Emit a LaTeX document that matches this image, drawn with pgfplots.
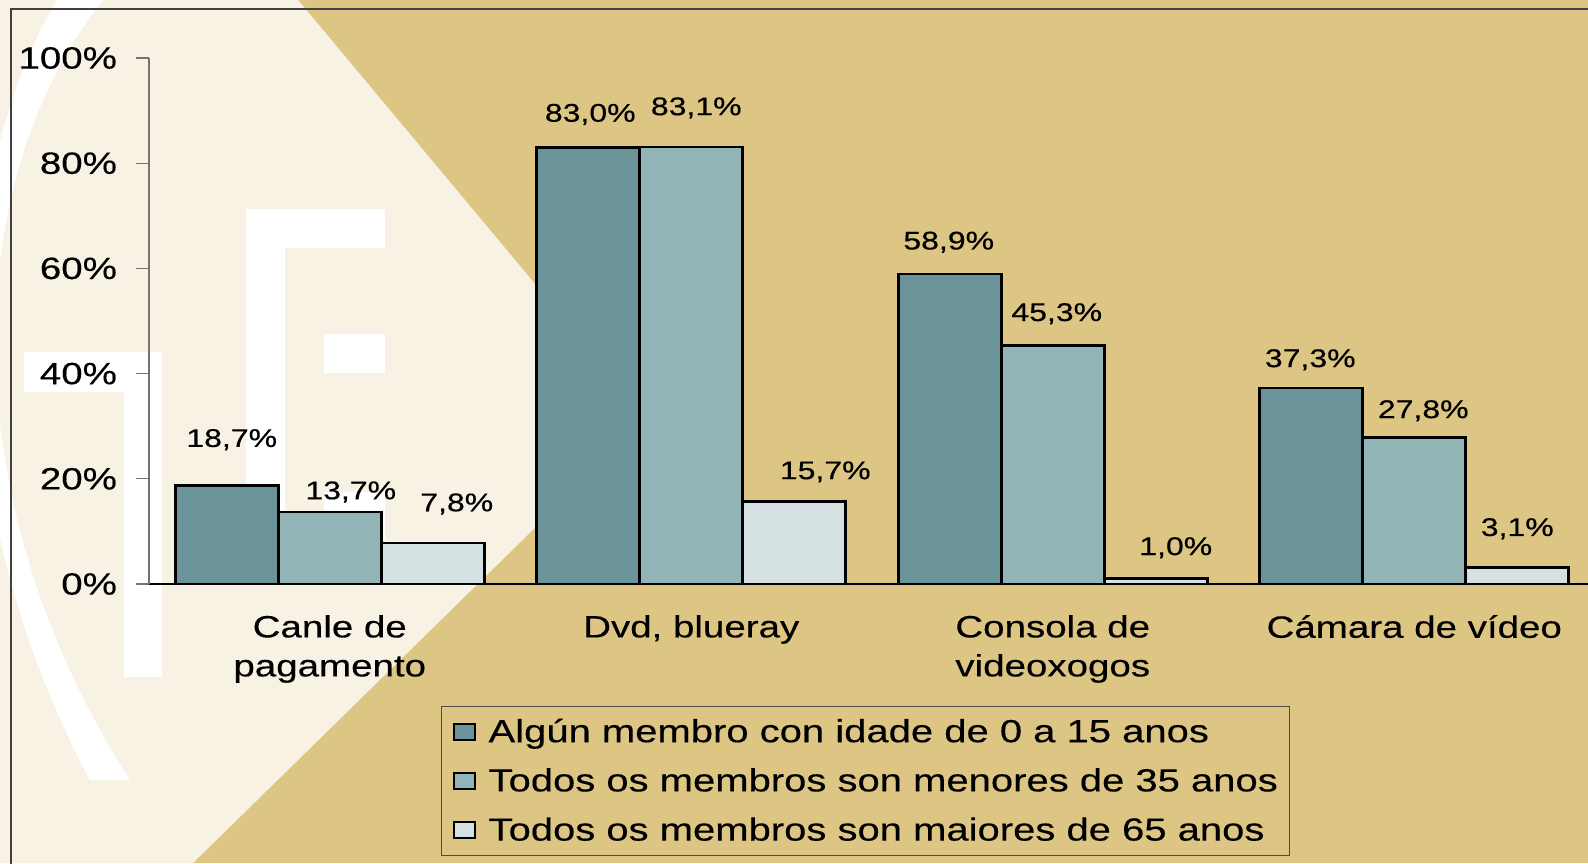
\documentclass[border=0pt]{standalone}
\usepackage{fontspec}
\setmainfont{Liberation Sans}[FakeStretch=1.25,FakeBold=0.35]
\usepackage{pgfplots}
\pgfplotsset{compat=1.18}
\usepackage{pgfplotstable}
\definecolor{tanbg}{HTML}{DDC683}
\definecolor{cream}{HTML}{F8F2E4}
\definecolor{barA}{HTML}{6A9499}
\definecolor{barB}{HTML}{92B4B6}
\definecolor{barC}{HTML}{D4E0E2}

\pgfplotstableread{
x y dx dy
0 18.7 2.5 23
1 83.0 1 16.5
2 58.9 -0.5 16
3 37.3 -0.5 14
}\serA
\pgfplotstableread{
x y dx dy
0 13.7 10.5 10
1 83.1 2.5 19.5
2 45.3 2 16
3 27.8 4.5 13.5
}\serB
\pgfplotstableread{
x y dx dy
0 7.8 12 19.5
1 15.7 15.5 14.75
2 1.0 10 15.5
3 3.1 0 19.5
}\serC

\begin{document}
\begin{tikzpicture}
\useasboundingbox (0,0) rectangle (794pt,431.5pt);
\clip (0,0) rectangle (794pt,431.5pt);
\begin{scope}[x=0.5pt,y=-0.5pt,yshift=431.5pt]
\fill[tanbg] (0,0) rectangle (1588,863);
\fill[cream] (0,0) -- (298,0) -- (647,418) -- (193,863) -- (0,863) -- cycle;
\fill[white] (57,0) .. controls (-50,180) and (-60,500) .. (90,780) -- (130,780) .. controls (-50,500) and (-40,180) .. (103,0) -- cycle;
\fill[white] (246,209) rectangle (385,248);
\fill[white] (246,209) rectangle (285,584);
\fill[white] (324,334) rectangle (385,373);
\fill[white] (324,492) rectangle (385,540);
\fill[white] (24,352) rectangle (162,392);
\fill[white] (124,352) rectangle (162,677);
\draw[black!75, line width=0.75pt] (11,870) -- (11,9) -- (1600,9);
\end{scope}
\begin{axis}[
  at={(74.5pt,139.5pt)}, anchor=south west,
  scale only axis, width=723pt, height=263pt,
  ybar=0pt, bar width=51.5pt,
  xmin=-0.5, xmax=3.5, ymin=0, ymax=100,
  axis x line*=bottom, axis y line*=left,
  x axis line style={black, line width=0.6pt},
  y axis line style={black!55, line width=0.6pt},
  tick align=outside, major tick length=6.5pt,
  xtick={0,1,2,3},
  xticklabels={{Canle de\\pagamento},{Dvd, blueray},{Consola de\\videoxogos},{Cámara de vídeo}},
  x tick style={draw=none},
  extra x ticks={-0.5,0.5,1.5,2.5},
  extra x tick labels={},
  extra x tick style={major tick length=4.5pt, tick style={draw=black, line width=0.5pt}},
  xticklabel style={align=center, font=\fontsize{15.4}{19.5}\selectfont, yshift=-5.5pt},
  ytick={0,20,40,60,80,100},
  yticklabels={0\%,20\%,40\%,60\%,80\%,100\%},
  y tick style={draw=black!55, line width=0.6pt},
  yticklabel style={font=\fontsize{15.4}{18}\selectfont, xshift=-6pt},
  point meta=y,
  nodes near coords={\pgfmathprintnumber[fixed,fixed zerofill,precision=1,use comma,assume math mode=true]{\pgfplotspointmeta}\%},
  visualization depends on={\thisrow{dx} \as \dx},
  visualization depends on={\thisrow{dy} \as \dy},
  every node near coord/.append style={font=\fontsize{12.8}{14}\selectfont, black, anchor=center, xshift=\dx pt, yshift=\dy pt},
  legend style={at={(0.2019,-0.232)}, anchor=north west, draw=black!70, line width=0.6pt, fill=tanbg,
    font=\fontsize{16}{18}\selectfont, inner xsep=4pt, inner ysep=4pt, row sep=7.5pt,
    cells={anchor=west, inner xsep=1pt}},
  legend image code/.code={\draw[#1, line width=1pt] (2pt,-4pt) rectangle (12.5pt,4pt); \path[draw=none,fill=none] (0pt,0pt) (17.5pt,0pt);},
  clip=false,
]
\addplot[draw=black, line width=1.3pt, fill=barA] table[x=x,y=y] {\serA};
\addplot[draw=black, line width=1.3pt, fill=barB] table[x=x,y=y] {\serB};
\addplot[draw=black, line width=1.3pt, fill=barC] table[x=x,y=y] {\serC};
\legend{Algún membro con idade de 0 a 15 anos, Todos os membros son menores de 35 anos, Todos os membros son maiores de 65 anos}
\end{axis}
\end{tikzpicture}
\end{document}
